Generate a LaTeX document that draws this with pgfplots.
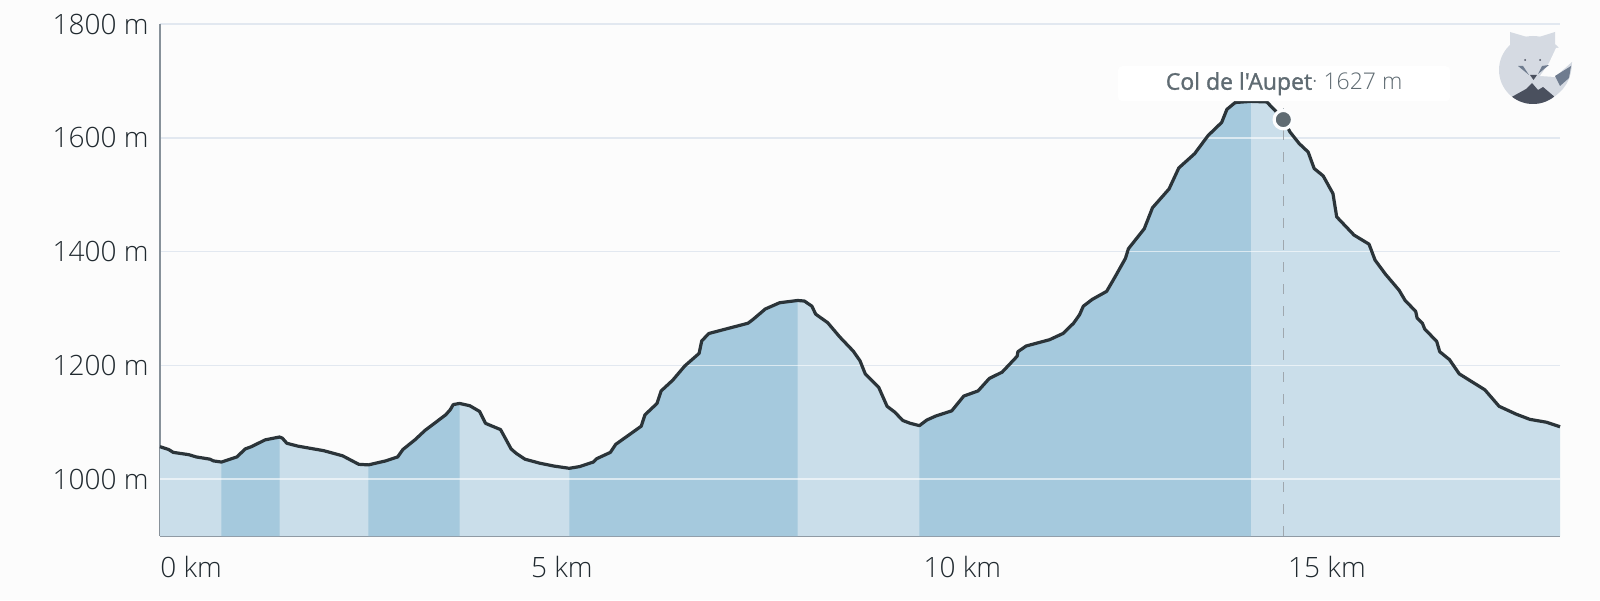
\documentclass[border=0pt]{standalone}
\usepackage{fontspec}
\setmainfont{Open Sans}[UprightFont=* Light,BoldFont=*,BoldFeatures={FakeBold=1.2},Ligatures=TeXOff]
\usepackage{pgfplots}
\usepackage{pgfplotstable}
\pgfplotsset{compat=1.18}
\definecolor{bgc}{HTML}{FCFCFC}
\definecolor{darkfill}{HTML}{A5C9DD}
\definecolor{lightfill}{HTML}{CADEEA}
\definecolor{gridc}{HTML}{E2E8F0}
\definecolor{linec}{HTML}{2B3439}
\definecolor{axisc}{HTML}{87919A}
\definecolor{txt}{HTML}{20292F}
\definecolor{lab}{HTML}{5F6B72}
\definecolor{fox}{HTML}{D5DAE2}
\definecolor{foxd}{HTML}{4A505E}
\definecolor{foxm}{HTML}{6F7C8F}
\pgfplotstableread{
km m
0 1057
0.116 1052
0.176 1047
0.382 1043
0.482 1039
0.666 1035
0.711 1032
0.817 1030
1.023 1039
1.133 1053
1.215 1057
1.399 1069
1.59 1074
1.627 1072
1.687 1063
1.833 1058
2.177 1050
2.428 1041
2.644 1026
2.772 1025
3.001 1032
3.161 1039
3.23 1052
3.39 1069
3.528 1086
3.80 1113
3.86 1122
3.90 1131
3.985 1133
4.12 1129
4.25 1119
4.33 1098
4.53 1087
4.67 1053
4.74 1045
4.855 1035
5.05 1028
5.237 1023
5.443 1019
5.58 1022
5.763 1030
5.81 1036
5.99 1047
6.06 1061
6.40 1093
6.45 1113
6.61 1133
6.665 1155
6.82 1174
6.98 1199
7.17 1221
7.205 1243
7.30 1256
7.53 1264
7.82 1274
7.89 1281
8.05 1299
8.24 1310
8.48 1314
8.57 1313
8.67 1304
8.72 1290
8.88 1275
9.04 1250
9.22 1225
9.31 1208
9.38 1185
9.56 1161
9.67 1128
9.77 1118
9.88 1103
9.98 1098
10.10 1094
10.20 1104
10.32 1111
10.53 1120
10.69 1146
10.88 1155
11.03 1177
11.20 1188
11.40 1216
11.41 1224
11.52 1234
11.83 1245
12.01 1256
12.15 1274
12.23 1289
12.28 1304
12.40 1316
12.59 1330
12.70 1355
12.84 1388
12.88 1405
13.09 1440
13.20 1477
13.42 1510
13.55 1547
13.76 1572
13.94 1604
14.12 1627
14.19 1650
14.30 1662
14.51 1664
14.72 1663
14.83 1648
14.94 1632
15.03 1610
15.15 1590
15.27 1575
15.35 1546
15.47 1533
15.60 1502
15.65 1461
15.88 1429
16.08 1413
16.16 1385
16.30 1360
16.48 1332
16.56 1314
16.70 1295
16.72 1283
16.79 1274
16.82 1264
16.98 1242
17.02 1224
17.15 1210
17.28 1185
17.62 1157
17.81 1128
18.04 1114
18.22 1105
18.44 1100
18.62 1092
}\profile
\begin{document}
\begin{tikzpicture}[x=1pt,y=1pt]
\fill[bgc,use as bounding box] (0,0) rectangle (800,300);
\begin{axis}[
  at={(80pt,32pt)},anchor=south west,
  scale only axis,width=700pt,height=256pt,
  xmin=0,xmax=18.62,ymin=900,ymax=1800,
  axis x line*=bottom,axis y line*=left,
  axis line style={axisc,line width=1pt,-},
  xtick={0,4.93,10.15,15},xticklabels={0 km,5 km,10 km,15 km},
  ytick={1000,1200,1400,1600,1800},yticklabels={1000 m,1200 m,1400 m,1600 m,1800 m},
  major tick length=0pt,
  ymajorgrids,grid style={gridc,line width=0.8pt},
  tick label style={font=\fontsize{14}{16}\selectfont,text=txt},
  xticklabel style={anchor=north west,inner sep=0pt,yshift=-10pt},
  yticklabel style={anchor=east,inner sep=0pt,xshift=-5.5pt},
  clip=false,
]
\addplot[fill=lightfill,draw=none] table[x=km,y=m]{\profile} \closedcycle;
\addplot[fill=darkfill,draw=none,restrict x to domain=0.817:1.59] table[x=km,y=m]{\profile} \closedcycle;
\addplot[fill=darkfill,draw=none,restrict x to domain=2.772:3.985] table[x=km,y=m]{\profile} \closedcycle;
\addplot[fill=darkfill,draw=none,restrict x to domain=5.443:8.48] table[x=km,y=m]{\profile} \closedcycle;
\addplot[fill=darkfill,draw=none,restrict x to domain=10.10:14.51] table[x=km,y=m]{\profile} \closedcycle;
\addplot[white,opacity=.6,line width=0.8pt] coordinates {(0,1000)(18.62,1000)};
\addplot[white,opacity=.6,line width=0.8pt] coordinates {(6.99,1200)(9.33,1200)};
\addplot[white,opacity=.6,line width=0.8pt] coordinates {(11.29,1200)(17.21,1200)};
\addplot[white,opacity=.6,line width=0.8pt] coordinates {(12.87,1400)(16.11,1400)};
\addplot[white,opacity=.6,line width=0.8pt] coordinates {(13.93,1600)(15.09,1600)};
\addplot[linec,line width=1.6pt,line join=round] table[x=km,y=m]{\profile};
\addplot[axisc!80,line width=0.7pt,dash pattern=on 5pt off 6pt] coordinates {(14.94,900)(14.94,1660)};
\addplot[only marks,mark=*,mark size=4.6pt,mark options={draw=white!94!lightfill,line width=1.6pt,fill=lab}] coordinates {(14.94,1632)};
\node[fill=white,rounded corners=2pt,minimum width=166pt,minimum height=17.5pt,inner sep=0pt,text=lab,
  font=\fontsize{11.5}{14}\selectfont] at (axis cs:14.95,1695) {\raisebox{-1.5pt}{\textbf{Col de l'Aupet}· 1627 m}};
\end{axis}
% logo, in image pixels
\begin{scope}[yscale=-1,yshift=-300pt,x=.5pt,y=.5pt]
\fill[fox] (1533,70) circle (34);
\fill[fox] (1510,32) -- (1510,55) -- (1527,37) -- cycle;
\fill[fox] (1555,32) -- (1555,55) -- (1539,37) -- cycle;
\fill[bgc] (1556,48) -- (1580,48) -- (1580,66) -- (1571,66) -- (1555,77) -- (1540,76) -- (1549,63) -- cycle;
\fill[bgc] (1571,66) -- (1580,66) -- (1580,100) -- (1565,90) -- cycle;
\fill[fox] (1572,62) .. controls (1572,78) and (1565,92) .. (1548,100) -- (1556,84) -- (1555,77) -- cycle;
\fill[foxm] (1555,76) -- (1571,66) -- (1569,78) -- (1560,86) -- cycle;
\begin{scope}
\clip (1533,70) circle (34);
\fill[foxd] (1508,99) -- (1526,89) -- (1532,83) -- (1538,90) -- (1543,87) -- (1556,98) -- (1533,110) -- cycle;
\end{scope}
\fill[foxd] (1525,60) circle (1);
\fill[foxd] (1540,60) circle (1);
\fill[foxm] (1518,66) -- (1529,75) -- (1523,66) -- cycle;
\fill[foxm] (1549,65) -- (1538,74) -- (1542,66) -- cycle;
\fill[foxd] (1530,75) -- (1537,75) -- (1533.5,80) -- cycle;
\end{scope}
\end{tikzpicture}
\end{document}
